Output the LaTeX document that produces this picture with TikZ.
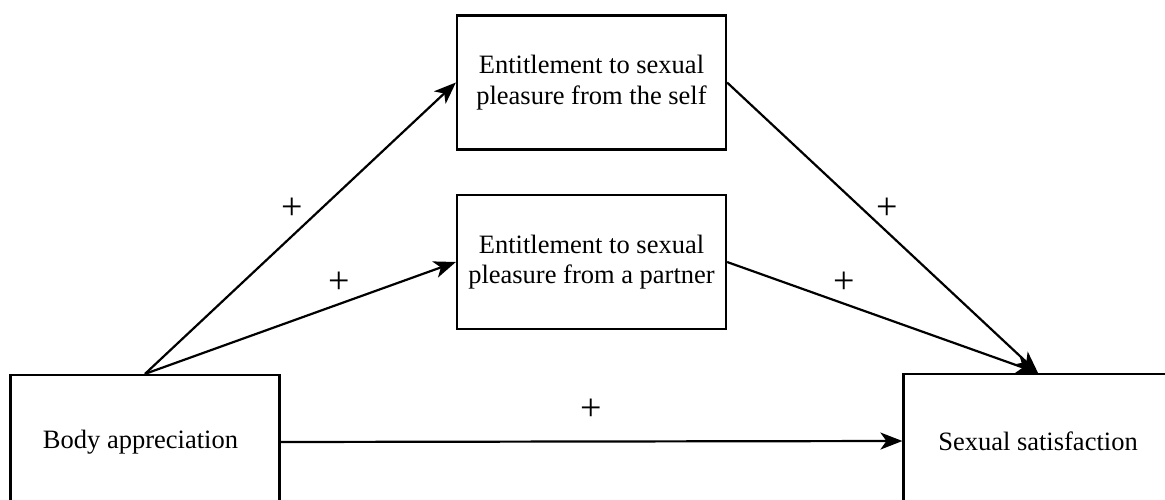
\documentclass[tikz,border=0pt]{standalone}
\usepackage{fontspec}
\setmainfont{Liberation Serif}
\usetikzlibrary{arrows.meta}
\begin{document}
\begin{tikzpicture}[x=1pt,y=-1pt,
  box/.style={draw,line width=2.2pt,minimum width=269pt,minimum height=134pt,align=center,inner sep=0pt,
    font=\fontsize{26.5}{30.5}\selectfont},
  conn/.style={line width=2.2pt,-{Stealth[length=22pt,width=17pt,inset=6pt]}},
  plus/.style={font=\fontsize{38}{38}\selectfont,inner sep=0pt}]
\useasboundingbox (0,0) rectangle (1165,500);
\node[box] (self) at (591.5,82.5) {Entitlement to sexual\\pleasure from the self};
\node[box] (partner) at (591.5,262) {Entitlement to sexual\\pleasure from a partner};
\node[box] (body) at (145,442) {Body appreciation\hspace*{9pt}};
\node[box] (sat) at (1038,441) {Sexual satisfaction};
\draw[conn] (body.north) -- (self.west);
\draw[conn] (body.north) -- (partner.west);
\draw[conn] (self.east) -- (sat.north);
\draw[conn] (partner.east) -- (sat.north);
\draw[conn] (body.east) -- (sat.west);
\node[plus] (p1) at (292,209) {+};
\node[plus] (p2) at (339,283) {+};
\node[plus] (p3) at (887,209) {+};
\node[plus] (p4) at (844,283) {+};
\node[plus] (p5) at (591,410) {+};
\end{tikzpicture}
\end{document}
